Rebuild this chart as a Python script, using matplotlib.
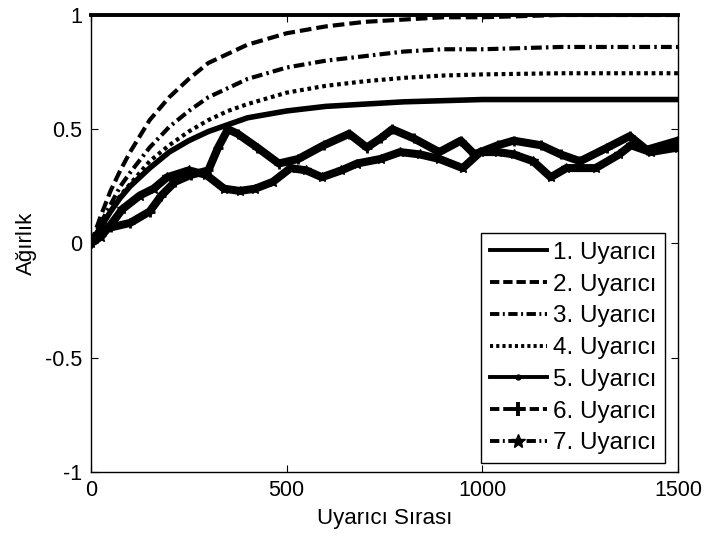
"""
Weights of the seven stimuli over the stimulus sequence.
"""

import matplotlib

matplotlib.use("Agg")
import matplotlib.pyplot as plt
from matplotlib.lines import Line2D


plt.rcParams["font.family"] = ["Liberation Sans", "DejaVu Sans"]
plt.rcParams["axes.unicode_minus"] = False


# Smooth learning curves
curve_x = [0, 25, 50, 75, 100, 150, 200, 250, 300, 350, 400, 500,
           600, 700, 800, 900, 1000, 1200, 1500]
stim1 = [1.0] * len(curve_x)
stim2 = [0, 0.12, 0.23, 0.32, 0.40, 0.54, 0.64, 0.72, 0.79, 0.83, 0.87,
         0.92, 0.95, 0.97, 0.98, 0.99, 0.99, 1.0, 1.0]
stim3 = [0, 0.09, 0.17, 0.25, 0.31, 0.42, 0.51, 0.58, 0.64, 0.68, 0.72,
         0.77, 0.80, 0.82, 0.84, 0.85, 0.85, 0.86, 0.86]
stim4 = [0, 0.08, 0.14, 0.21, 0.26, 0.36, 0.43, 0.49, 0.54, 0.58, 0.61,
         0.66, 0.69, 0.71, 0.725, 0.735, 0.74, 0.745, 0.745]
stim5 = [0, 0.07, 0.14, 0.20, 0.25, 0.33, 0.40, 0.45, 0.49, 0.52, 0.55,
         0.58, 0.60, 0.61, 0.62, 0.625, 0.63, 0.63, 0.63]

# Oscillating curves
stim6_x = [0, 25, 50, 100, 150, 180, 215, 255, 300, 325, 350, 375, 425,
           480, 530, 595, 660, 705, 740, 770, 825, 890, 945, 980, 1040,
           1080, 1150, 1200, 1250, 1320, 1377, 1420, 1500]
stim6 = [0, 0.06, 0.07, 0.09, 0.14, 0.21, 0.27, 0.30, 0.32, 0.42, 0.50,
         0.48, 0.42, 0.35, 0.37, 0.43, 0.48, 0.42, 0.46, 0.50, 0.46, 0.40,
         0.45, 0.39, 0.43, 0.45, 0.43, 0.39, 0.36, 0.42, 0.47, 0.41, 0.45]
stim7_x = [0, 25, 50, 80, 125, 160, 195, 250, 295, 340, 380, 420, 465,
           510, 550, 590, 640, 680, 740, 790, 840, 890, 950, 995, 1040,
           1080, 1130, 1175, 1215, 1290, 1350, 1380, 1430, 1500]
stim7 = [0, 0.03, 0.08, 0.15, 0.21, 0.24, 0.29, 0.32, 0.30, 0.24, 0.23,
         0.24, 0.27, 0.33, 0.32, 0.29, 0.32, 0.35, 0.37, 0.40, 0.39, 0.37,
         0.33, 0.40, 0.40, 0.39, 0.36, 0.29, 0.33, 0.33, 0.39, 0.43, 0.40,
         0.42]

labels = [f"{i}. Uyarıcı" for i in range(1, 8)]

FONT = 15.5

figure = plt.figure(figsize=(7.05, 5.39), dpi=100)
axis = figure.add_axes([0.129, 0.1243, 0.8326, 0.8479])

axis.plot(curve_x, stim1, color="black", lw=2.8, clip_on=False)
axis.plot(curve_x, stim2, color="black", lw=3.0, dashes=(2.8, 1.2))
axis.plot(curve_x, stim3, color="black", lw=3.0, dashes=(2.6, 1.0, 0.6, 1.0))
axis.plot(curve_x, stim4, color="black", lw=3.0, dashes=(0.9, 0.9))
axis.plot(curve_x, stim5, color="black", lw=4.0)
axis.plot(stim6_x, stim6, color="black", lw=5.8, marker="+", ms=7, mew=2)
axis.plot(stim7_x, stim7, color="black", lw=5.8, marker="*", ms=7)

axis.set_xlim(0, 1500)
axis.set_ylim(-1, 1)
axis.set_xticks([0, 500, 1000, 1500])
axis.set_yticks([-1, -0.5, 0, 0.5, 1])
axis.set_yticklabels(["-1", "-0.5", "0", "0.5", "1"])

axis.tick_params(direction="in", top=True, right=True, length=5,
                 width=0.8, labelsize=FONT, pad=6)
for spine in axis.spines.values():
    spine.set_linewidth(1.0)

axis.set_xlabel("Uyarıcı Sırası", fontsize=FONT + 0.5, labelpad=5)
axis.set_ylabel("Ağırlık", fontsize=FONT + 0.5, labelpad=6)

handles = [
    Line2D([], [], color="black", lw=2.8),
    Line2D([], [], color="black", lw=2.8, dashes=(2.4, 1.0)),
    Line2D([], [], color="black", lw=2.8, dashes=(2.4, 0.9, 0.5, 0.9)),
    Line2D([], [], color="black", lw=2.8, dashes=(0.8, 0.8)),
    Line2D([], [], color="black", lw=2.8, marker=".", ms=7),
    Line2D([], [], color="black", lw=2.8, dashes=(2.4, 1.0),
           marker="+", ms=10, mew=2.8),
    Line2D([], [], color="black", lw=2.8, dashes=(2.4, 0.9, 0.5, 0.9),
           marker="*", ms=10),
]

legend = axis.legend(
    handles,
    labels,
    loc="lower right",
    bbox_to_anchor=(0.978, 0.02),
    fontsize=17.5,
    frameon=True,
    fancybox=False,
    framealpha=1,
    edgecolor="black",
    handlelength=2.35,
    handletextpad=0.25,
    labelspacing=0.4,
    borderpad=0.35,
    borderaxespad=0,
)
legend.get_frame().set_linewidth(1.0)

figure.savefig("out.png", dpi=100)
